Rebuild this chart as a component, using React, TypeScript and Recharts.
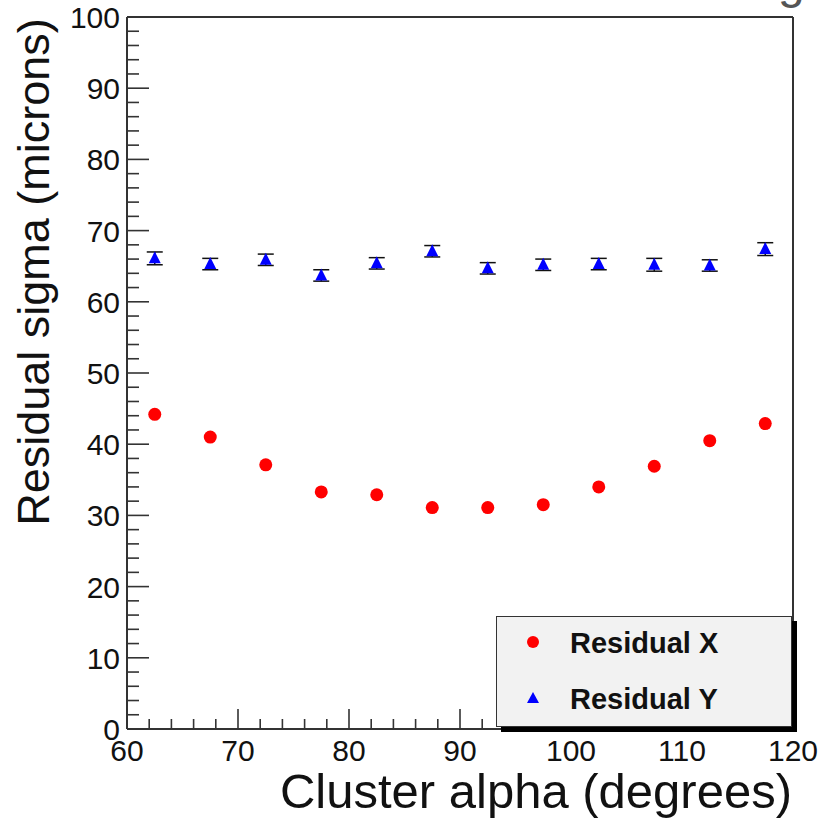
import { ScatterChart, Scatter, XAxis, YAxis, ErrorBar, Legend, Customized } from 'recharts';

// cluster alpha bin centres (degrees)
const alpha = [62.5, 67.5, 72.5, 77.5, 82.5, 87.5, 92.5, 97.5, 102.5, 107.5, 112.5, 117.5];

// residual sigma (microns)
const residualX = [44.2, 41.0, 37.1, 33.3, 32.9, 31.1, 31.1, 31.5, 34.0, 36.9, 40.5, 42.9];
const residualXErr = [0.8, 0.8, 0.8, 0.8, 0.8, 0.8, 0.8, 0.8, 0.8, 0.8, 0.8, 0.8];
const residualY = [66.1, 65.3, 65.9, 63.7, 65.4, 67.1, 64.7, 65.2, 65.3, 65.2, 65.1, 67.4];
const residualYErr = [0.9, 0.8, 0.8, 0.8, 0.8, 0.8, 0.8, 0.8, 0.8, 0.9, 0.8, 0.9];

const xMajor = [60, 70, 80, 90, 100, 110, 120];
const yMajor = [0, 10, 20, 30, 40, 50, 60, 70, 80, 90, 100];
const minorStep = 2;

const FONT = '"Liberation Sans", Arial, Helvetica, sans-serif';
const FRAME = '#333';

const withMinor = (majors: number[]) => {
  const out: number[] = [];
  for (let i = 0; i < majors.length - 1; i++) {
    for (let v = majors[i]; v < majors[i + 1]; v += minorStep) out.push(v);
  }
  out.push(majors[majors.length - 1]);
  return out;
};

const xTicks = withMinor(xMajor);
const yTicks = withMinor(yMajor);

const dataX = alpha.map((a, i) => ({ x: a, y: residualX[i], err: residualXErr[i] }));
const dataY = alpha.map((a, i) => ({ x: a, y: residualY[i], err: residualYErr[i] }));

const isMajor = (v: number) => v % 10 === 0;

const XTick = (side: 'bottom' | 'top') => (props: any) => {
  const { x, y, payload } = props;
  const len = isMajor(payload.value) ? 20 : 10;
  const dir = side === 'bottom' ? -1 : 1;
  return (
    <g>
      <line x1={x} y1={y} x2={x} y2={y + dir * len} stroke={FRAME} strokeWidth={1.6} />
      {side === 'bottom' && isMajor(payload.value) && (
        <text x={x} y={y + 32} textAnchor="middle" fontSize={30} fontFamily={FONT} fill="#111">
          {payload.value}
        </text>
      )}
    </g>
  );
};

const YTick = (side: 'left' | 'right') => (props: any) => {
  const { x, y, payload } = props;
  const len = isMajor(payload.value) ? 22 : 12;
  const dir = side === 'left' ? 1 : -1;
  return (
    <g>
      <line x1={x} y1={y} x2={x + dir * len} y2={y} stroke={FRAME} strokeWidth={1.6} />
      {side === 'left' && isMajor(payload.value) && (
        <text x={x - 7} y={y + 11} textAnchor="end" fontSize={30} fontFamily={FONT} fill="#111">
          {payload.value}
        </text>
      )}
    </g>
  );
};

const Dot = (props: any) => <circle cx={props.cx} cy={props.cy} r={6.5} fill="#ff0000" />;

const Tri = (props: any) => {
  const { cx, cy } = props;
  return <polygon points={`${cx},${cy - 7} ${cx - 6},${cy + 5} ${cx + 6},${cy + 5}`} fill="#0000ff" />;
};

const LegendBox = (props: any) => {
  const payload = props.payload || [];
  return (
    <svg width={305} height={120} style={{ display: 'block' }}>
      <rect x={5} y={5} width={296} height={111} fill="#000" />
      <rect x={0.5} y={0.5} width={295} height={110} fill="#f2f2f2" stroke={FRAME} strokeWidth={1} />
      {payload.map((entry: any, i: number) => {
        const cy = 26 + i * 56;
        return (
          <g key={entry.value}>
            {i === 0 ? (
              <circle cx={37} cy={cy} r={6} fill={entry.color} />
            ) : (
              <polygon points={`37,${cy - 6} 31,${cy + 5} 43,${cy + 5}`} fill={entry.color} />
            )}
            <text x={74} y={cy + 11} fontSize={29} fontWeight="bold" fontFamily={FONT} fill="#111">
              {entry.value}
            </text>
          </g>
        );
      })}
    </svg>
  );
};

const Titles = () => (
  <g fontFamily={FONT} fill="#111">
    <text transform="translate(49,272) rotate(-90)" textAnchor="middle" fontSize={45}>
      Residual sigma (microns)
    </text>
    <text x={792} y={808} textAnchor="end" fontSize={49}>
      Cluster alpha (degrees)
    </text>
    <text x={778} y={-2} fontSize={48} fill="#555">
      g
    </text>
  </g>
);

export default function App() {
  return (
    <div style={{ position: 'absolute', left: 0, top: 0, background: '#fff' }}>
      <ScatterChart width={821} height={820} margin={{ top: 16, right: 27, bottom: 90, left: 126 }}>
        <XAxis
          xAxisId="b"
          dataKey="x"
          type="number"
          domain={[60, 120]}
          ticks={xTicks}
          interval={0}
          height={1}
          tickSize={0}
          tickMargin={0}
          axisLine={{ stroke: FRAME, strokeWidth: 2 }}
          tickLine={false}
          tick={XTick('bottom')}
        />
        <XAxis
          xAxisId="t"
          orientation="top"
          dataKey="x"
          type="number"
          domain={[60, 120]}
          ticks={xTicks}
          interval={0}
          height={1}
          tickSize={0}
          tickMargin={0}
          axisLine={{ stroke: FRAME, strokeWidth: 2 }}
          tickLine={false}
          tick={XTick('top')}
        />
        <YAxis
          yAxisId="l"
          dataKey="y"
          type="number"
          domain={[0, 100]}
          ticks={yTicks}
          interval={0}
          width={1}
          tickSize={0}
          tickMargin={0}
          axisLine={{ stroke: FRAME, strokeWidth: 2 }}
          tickLine={false}
          tick={YTick('left')}
        />
        <YAxis
          yAxisId="r"
          orientation="right"
          dataKey="y"
          type="number"
          domain={[0, 100]}
          ticks={yTicks}
          interval={0}
          width={1}
          tickSize={0}
          tickMargin={0}
          axisLine={{ stroke: FRAME, strokeWidth: 2 }}
          tickLine={false}
          tick={YTick('right')}
        />
        <Scatter
          name="Residual X"
          data={dataX}
          xAxisId="b"
          yAxisId="l"
          fill="#ff0000"
          shape={Dot}
          isAnimationActive={false}
        >
          <ErrorBar dataKey="err" direction="y" width={0} stroke="#ff0000" strokeWidth={1.2} isAnimationActive={false} />
        </Scatter>
        <Scatter
          name="Residual Y"
          data={dataY}
          xAxisId="b"
          yAxisId="l"
          fill="#0000ff"
          shape={Tri}
          isAnimationActive={false}
        >
          <ErrorBar dataKey="err" direction="y" width={8} stroke="#111" strokeWidth={1.5} isAnimationActive={false} />
        </Scatter>
        <Legend
          layout="horizontal"
          verticalAlign="middle"
          align="center"
          wrapperStyle={{ position: 'absolute', left: 496, top: 616, width: 305, height: 120 }}
          content={LegendBox}
        />
        <Customized component={Titles} />
      </ScatterChart>
    </div>
  );
}
